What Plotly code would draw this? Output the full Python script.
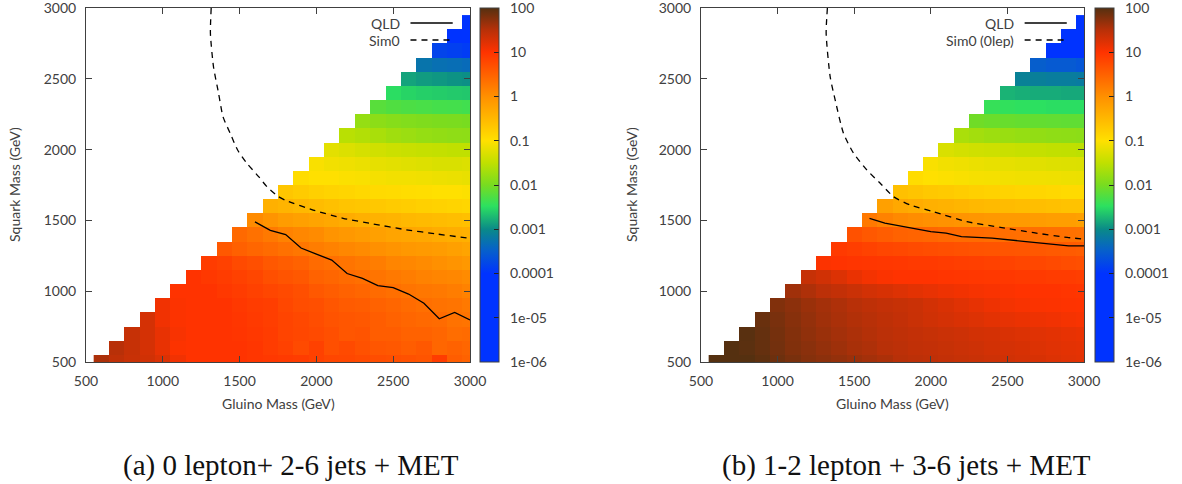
import plotly.graph_objects as go

# ---------------- data ----------------
gluino = [600, 700, 800, 900, 1000, 1100, 1200, 1300, 1400, 1500, 1600, 1700, 1800,
          1900, 2000, 2100, 2200, 2300, 2400, 2500, 2600, 2700, 2800, 2900, 3000]
squark = [500, 600, 700, 800, 900, 1000, 1100, 1200, 1300, 1400, 1500, 1600, 1700,
          1800, 1900, 2000, 2100, 2200, 2300, 2400, 2500, 2600, 2700, 2800, 2900]

# log10(significance); row for squark mass s starts at gluino = s + 100
# (a) 0 lepton + 2-6 jets + MET
A500 = [1.56, 1.45, 1.39, 1.33, 1.25, 1.1, 1.0, 1.0, 1.0, 1.0, 0.97, 0.95, 0.92, 0.9, 0.85, 0.8, 0.78, 0.75, 0.72, 0.7, 0.68, 0.65, 0.9, 0.55, 0.5]
A600 = [1.5, 1.4, 1.3, 1.16, 1.02, 1.0, 1.0, 1.0, 1.0, 0.97, 0.9, 0.85, 0.75, 0.85, 0.7, 0.75, 0.68, 0.62, 0.6, 0.55, 0.6, 0.45, 0.5, 0.45]
A700 = [1.4, 1.3, 1.16, 1.05, 1.0, 1.0, 1.0, 0.98, 0.95, 0.9, 0.82, 0.78, 0.75, 0.7, 0.62, 0.65, 0.55, 0.55, 0.5, 0.5, 0.45, 0.38, 0.4]
A800 = [1.3, 1.1, 1.02, 1.0, 1.0, 1.0, 0.97, 0.93, 0.88, 0.82, 0.77, 0.72, 0.66, 0.62, 0.6, 0.55, 0.5, 0.45, 0.42, 0.4, 0.32, 0.3]
A900 = [1.1, 1.02, 1.0, 1.0, 1.0, 0.95, 0.9, 0.88, 0.78, 0.72, 0.7, 0.62, 0.57, 0.55, 0.5, 0.45, 0.4, 0.35, 0.32, 0.3, 0.25]
A1000 = [1.0, 1.0, 1.0, 0.95, 0.9, 0.85, 0.8, 0.75, 0.7, 0.6, 0.55, 0.5, 0.45, 0.4, 0.35, 0.3, 0.27, 0.25, 0.2, 0.15]
A1100 = [1.0, 0.95, 0.9, 0.85, 0.8, 0.7, 0.65, 0.6, 0.5, 0.45, 0.4, 0.35, 0.3, 0.25, 0.2, 0.15, 0.12, 0.1, 0.05]
A1200 = [0.9, 0.85, 0.75, 0.7, 0.6, 0.55, 0.5, 0.4, 0.35, 0.3, 0.25, 0.2, 0.12, 0.1, 0.05, 0.0, -0.05, -0.1]
A1300 = [0.6, 0.52, 0.45, 0.4, 0.33, 0.28, 0.2, 0.15, 0.1, 0.05, 0.0, -0.05, -0.1, -0.13, -0.15, -0.2, -0.25]
A1400 = [0.42, 0.33, 0.25, 0.15, 0.1, 0.05, -0.05, -0.1, -0.15, -0.2, -0.25, -0.28, -0.3, -0.35, -0.38, -0.4]
A1500 = [0.05, -0.05, -0.15, -0.2, -0.25, -0.3, -0.35, -0.4, -0.43, -0.45, -0.5, -0.53, -0.55, -0.58, -0.6]
A1600 = [-0.4, -0.45, -0.5, -0.55, -0.6, -0.65, -0.68, -0.7, -0.74, -0.76, -0.8, -0.83, -0.85, -0.88]
A1700 = [-0.68, -0.74, -0.8, -0.84, -0.86, -0.9, -0.92, -0.94, -0.96, -0.98, -1.0, -1.0, -1.02]
A1800 = [-0.95, -1.0, -1.0, -1.03, -1.05, -1.08, -1.1, -1.1, -1.12, -1.14, -1.16, -1.18]
A1900 = [-1.05, -1.1, -1.13, -1.16, -1.2, -1.22, -1.25, -1.27, -1.3, -1.3, -1.28]
A2000 = [-1.22, -1.28, -1.33, -1.37, -1.41, -1.44, -1.46, -1.48, -1.5, -1.5]
A2100 = [-1.55, -1.6, -1.66, -1.72, -1.76, -1.8, -1.82, -1.84, -1.85]
A2200 = [-1.8, -1.86, -1.9, -1.93, -1.95, -1.97, -1.98, -2.0]
A2300 = [-2.2, -2.25, -2.28, -2.3, -2.32, -2.33, -2.35]
A2400 = [-2.5, -2.55, -2.58, -2.6, -2.62, -2.63]
A2500 = [-2.85, -2.9, -2.92, -2.95, -2.97]
A2600 = [-3.25, -3.3, -3.32, -3.35]
A2700 = [-3.8, -3.85, -3.9]
A2800 = [-4.3, -4.35]
A2900 = [-4.8]

# (b) 1-2 lepton + 3-6 jets + MET
B500 = [2.0, 2.0, 2.0, 1.95, 1.88, 1.82, 1.76, 1.72, 1.68, 1.64, 1.6, 1.56, 1.5, 1.47, 1.45, 1.42, 1.4, 1.38, 1.35, 1.33, 1.3, 1.28, 1.25, 1.22, 1.2]
B600 = [2.0, 1.97, 1.92, 1.85, 1.78, 1.73, 1.68, 1.63, 1.58, 1.55, 1.5, 1.47, 1.44, 1.42, 1.4, 1.37, 1.35, 1.32, 1.3, 1.28, 1.25, 1.22, 1.2, 1.18]
B700 = [1.98, 1.92, 1.84, 1.77, 1.7, 1.65, 1.6, 1.56, 1.52, 1.48, 1.45, 1.42, 1.4, 1.37, 1.35, 1.32, 1.3, 1.27, 1.25, 1.22, 1.2, 1.17, 1.15]
B800 = [1.9, 1.82, 1.75, 1.68, 1.62, 1.57, 1.53, 1.5, 1.46, 1.42, 1.38, 1.34, 1.3, 1.27, 1.24, 1.2, 1.17, 1.14, 1.12, 1.1, 1.07, 1.05]
B900 = [1.78, 1.72, 1.65, 1.6, 1.55, 1.5, 1.46, 1.42, 1.4, 1.37, 1.32, 1.27, 1.22, 1.17, 1.12, 1.08, 1.05, 1.03, 1.02, 1.01, 1.0]
B1000 = [1.62, 1.55, 1.47, 1.42, 1.37, 1.32, 1.28, 1.24, 1.2, 1.16, 1.12, 1.09, 1.06, 1.04, 1.02, 1.0, 1.0, 1.0, 0.98, 0.97]
B1100 = [1.4, 1.33, 1.25, 1.15, 1.08, 1.03, 1.0, 1.0, 1.0, 0.98, 0.97, 0.96, 0.95, 0.95, 0.93, 0.92, 0.9, 0.9, 0.88]
B1200 = [1.02, 1.0, 0.98, 0.97, 0.96, 0.95, 0.93, 0.92, 0.9, 0.88, 0.87, 0.85, 0.83, 0.8, 0.78, 0.75, 0.72, 0.7]
B1300 = [0.93, 0.88, 0.84, 0.8, 0.77, 0.74, 0.72, 0.7, 0.68, 0.66, 0.65, 0.63, 0.62, 0.6, 0.58, 0.57, 0.55]
B1400 = [0.68, 0.6, 0.55, 0.5, 0.47, 0.45, 0.42, 0.4, 0.4, 0.38, 0.37, 0.36, 0.35, 0.34, 0.33, 0.32]
B1500 = [0.25, 0.15, 0.08, 0.03, 0.0, -0.03, -0.05, -0.08, -0.1, -0.12, -0.13, -0.15, -0.17, -0.18, -0.2]
B1600 = [-0.2, -0.3, -0.35, -0.4, -0.43, -0.46, -0.5, -0.52, -0.54, -0.56, -0.58, -0.6, -0.62, -0.63]
B1700 = [-0.6, -0.65, -0.7, -0.73, -0.76, -0.8, -0.82, -0.84, -0.86, -0.88, -0.9, -0.92, -0.93]
B1800 = [-0.95, -1.0, -1.02, -1.05, -1.07, -1.08, -1.1, -1.12, -1.12, -1.13, -1.14, -1.15]
B1900 = [-1.05, -1.1, -1.13, -1.16, -1.18, -1.2, -1.22, -1.24, -1.26, -1.27, -1.28]
B2000 = [-1.3, -1.35, -1.38, -1.4, -1.43, -1.45, -1.47, -1.49, -1.5, -1.52]
B2100 = [-1.65, -1.7, -1.74, -1.77, -1.8, -1.82, -1.84, -1.85, -1.86]
B2200 = [-2.05, -2.08, -2.1, -2.12, -2.13, -2.14, -2.15, -2.15]
B2300 = [-2.42, -2.45, -2.47, -2.48, -2.5, -2.5, -2.5]
B2400 = [-2.75, -2.78, -2.8, -2.8, -2.82, -2.82]
B2500 = [-3.1, -3.12, -3.15, -3.15, -3.17]
B2600 = [-3.5, -3.55, -3.55, -3.6]
B2700 = [-4.1, -4.1, -4.15]
B2800 = [-4.6, -4.6]
B2900 = [-5.0]

# exclusion contours
qld_a_gluino = [1600, 1700, 1800, 1900, 2000, 2100, 2200, 2300, 2400, 2500, 2600, 2700, 2800, 2900, 3000]
qld_a_squark = [1490, 1430, 1400, 1305, 1262, 1220, 1125, 1090, 1040, 1025, 980, 915, 805, 850, 797]
sim0_a_gluino = [1315, 1310, 1330, 1363, 1392, 1439, 1487, 1548, 1624, 1678, 1754, 1805, 1979, 2174, 2370, 2566, 2783, 3000]
sim0_a_squark = [3000, 2820, 2585, 2398, 2232, 2115, 1997, 1903, 1809, 1738, 1667, 1639, 1573, 1515, 1475, 1437, 1404, 1373]

qld_b_gluino = [1600, 1700, 1850, 2000, 2100, 2200, 2400, 2600, 2700, 2900, 3000]
qld_b_squark = [1515, 1480, 1450, 1420, 1410, 1385, 1375, 1355, 1345, 1320, 1320]
sim0_b_gluino = [1325, 1317, 1343, 1376, 1430, 1496, 1583, 1670, 1757, 1866, 2018, 2236, 2454, 2672, 2890, 3000]
sim0_b_squark = [3000, 2820, 2515, 2350, 2115, 1974, 1856, 1762, 1667, 1609, 1561, 1491, 1451, 1413, 1380, 1368]

cbar_tickvals = [-6, -5, -4, -3, -2, -1, 0, 1, 2]
cbar_ticktext = ["1e-06", "1e-05", "0.0001", "0.001", "0.01", "0.1", "1", "10", "100"]
axis_ticks = [500, 1000, 1500, 2000, 2500, 3000]

captions = ["(a) 0 lepton+ 2-6 jets + MET", "(b) 1-2 lepton + 3-6 jets + MET"]
legend_a = ["QLD", "Sim0"]
legend_b = ["QLD", "Sim0 (0lep)"]

# ---------------- build ----------------
rows_a = [A500, A600, A700, A800, A900, A1000, A1100, A1200, A1300, A1400, A1500, A1600, A1700,
          A1800, A1900, A2000, A2100, A2200, A2300, A2400, A2500, A2600, A2700, A2800, A2900]
rows_b = [B500, B600, B700, B800, B900, B1000, B1100, B1200, B1300, B1400, B1500, B1600, B1700,
          B1800, B1900, B2000, B2100, B2200, B2300, B2400, B2500, B2600, B2700, B2800, B2900]


def to_matrix(rows):
    z = []
    for i, r in enumerate(rows):
        z.append([None] * i + list(r))
    return z


colorscale = [
    [0.0, "#0033ff"], [0.25, "#0033ff"], [0.318, "#0762c8"], [0.375, "#0a8a88"],
    [0.44, "#2ce060"], [0.5, "#78dc20"], [0.5625, "#c0e000"], [0.625, "#ffe000"],
    [0.75, "#ff9000"], [0.875, "#ff3300"], [0.9375, "#b83008"], [1.0, "#553010"],
]

W, H = 1182, 484
ML, MR, MT, MB = 86, 98, 8, 122          # plot area spans both panels
PW = W - ML - MR
TXT = "#404040"
FONT = "Lato"
DASH = "6px,5px"


def fx(px):  # figure pixel -> paper fraction (x)
    return (px - ML) / PW


def fy(py):  # figure pixel -> paper fraction (y)
    return 1 - (py - MT) / (H - MT - MB)


panels = [
    dict(x0=86, x1=470, cb0=480, rows=rows_a, qg=qld_a_gluino, qs=qld_a_squark,
         sg=sim0_a_gluino, ss=sim0_a_squark, leg=legend_a, cap=captions[0], capx=291, ytx=14),
    dict(x0=701, x1=1084, cb0=1095, rows=rows_b, qg=qld_b_gluino, qs=qld_b_squark,
         sg=sim0_b_gluino, ss=sim0_b_squark, leg=legend_b, cap=captions[1], capx=906, ytx=631),
]

fig = go.Figure()
annotations = []
shapes = []
for k, p in enumerate(panels):
    xa = "x" if k == 0 else "x2"
    ya = "y" if k == 0 else "y2"
    fig.add_trace(go.Heatmap(
        x=gluino, y=squark, z=to_matrix(p["rows"]), xaxis=xa, yaxis=ya,
        zmin=-6, zmax=2, colorscale=colorscale, hoverongaps=False,
        colorbar=dict(
            x=fx(p["cb0"]), xanchor="left", y=1, yanchor="top",
            len=1, lenmode="fraction", thickness=19, thicknessmode="pixels",
            xpad=0, ypad=0, outlinewidth=1, outlinecolor=TXT,
            tickvals=cbar_tickvals, ticktext=["\u00a0\u00a0" + t for t in cbar_ticktext],
            ticks="inside", ticklen=5, tickcolor="#222", tickwidth=1,
            ticklabeloverflow="allow",
            tickfont=dict(family=FONT, size=14, color=TXT),
        ),
    ))
    fig.add_trace(go.Scatter(x=p["qg"], y=p["qs"], mode="lines", xaxis=xa, yaxis=ya,
                             line=dict(color="black", width=1.3), hoverinfo="skip"))
    fig.add_trace(go.Scatter(x=p["sg"], y=p["ss"], mode="lines", xaxis=xa, yaxis=ya,
                             line=dict(color="black", width=1.3, dash=DASH, shape="spline", smoothing=0.6),
                             hoverinfo="skip"))
    common = dict(range=[500, 3000], tickvals=axis_ticks, ticks="inside", ticklen=6, tickcolor=TXT,
                  showline=True, linecolor=TXT, linewidth=1, mirror="ticks", showgrid=False,
                  zeroline=False, automargin=False, ticklabeloverflow="allow",
                  tickfont=dict(family=FONT, size=14, color=TXT), ticklabelstandoff=6)
    ax = dict(domain=[fx(p["x0"]), fx(p["x1"])], anchor=ya, **common)
    ay = dict(domain=[0, 1], anchor=xa, **common)
    if k == 0:
        fig.update_layout(xaxis=ax, yaxis=ay)
    else:
        fig.update_layout(xaxis2=ax, yaxis2=ay)

    # axis titles
    annotations.append(dict(text="Gluino Mass (GeV)", xref="paper", yref="paper",
                            x=fx((p["x0"] + p["x1"]) / 2), y=fy(404), showarrow=False,
                            xanchor="center", yanchor="middle",
                            font=dict(family=FONT, size=14, color=TXT)))
    annotations.append(dict(text="Squark Mass (GeV)", xref="paper", yref="paper",
                            x=fx(p["ytx"]), y=fy(185), showarrow=False, textangle=-90,
                            xanchor="center", yanchor="middle",
                            font=dict(family=FONT, size=14, color=TXT)))
    # caption
    annotations.append(dict(text=p["cap"], xref="paper", yref="paper",
                            x=fx(p["capx"]), y=fy(465), showarrow=False,
                            xanchor="center", yanchor="middle",
                            font=dict(family="Liberation Serif", size=29, color="#111")))
    # legend (gnuplot style: label, then sample)
    xd = "x domain" if k == 0 else "x2 domain"
    yd = "y domain" if k == 0 else "y2 domain"
    for j, (lab, dsh) in enumerate(zip(p["leg"], ["solid", DASH])):
        yy = fy(23 + 17 * j)
        annotations.append(dict(text=lab, xref=xd, yref=yd, x=0.822, y=yy, showarrow=False,
                                xanchor="right", yanchor="middle",
                                font=dict(family=FONT, size=14, color=TXT)))
        shapes.append(dict(type="line", xref=xd, yref=yd, x0=0.845, x1=0.955, y0=yy, y1=yy,
                           line=dict(color="black", width=1.3, dash=dsh)))

fig.update_layout(width=W, height=H, margin=dict(l=ML, r=MR, t=MT, b=MB, autoexpand=False),
                  plot_bgcolor="white", paper_bgcolor="white", showlegend=False,
                  annotations=annotations, shapes=shapes)
fig.write_html("out.html", config={"displayModeBar": False},
               post_script="document.body.style.margin='0px';")
